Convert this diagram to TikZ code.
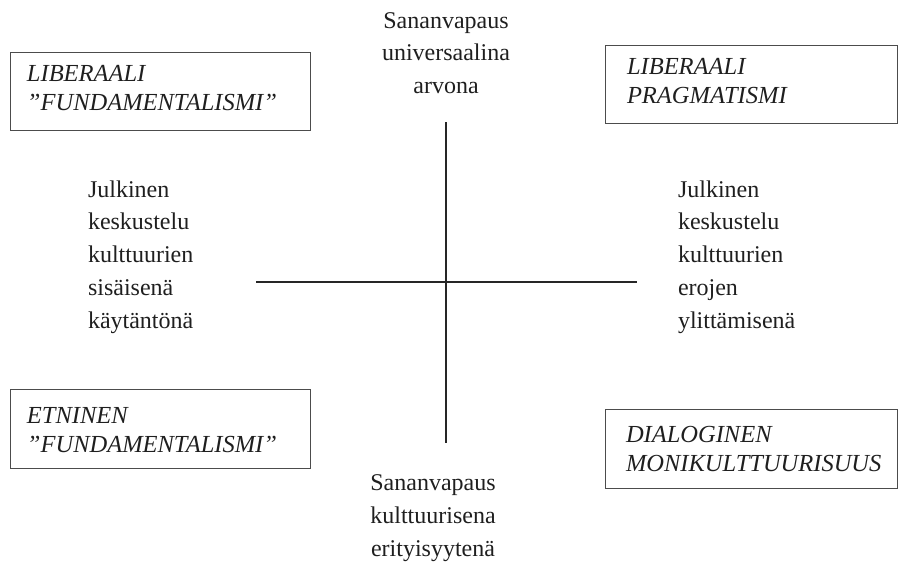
\documentclass[tikz,border=0pt]{standalone}
\usepackage{fontspec}
\setmainfont{Liberation Serif}
\begin{document}
\begin{tikzpicture}[x=1pt,y=-1pt,
  lbl/.style={inner sep=0pt, outer sep=0pt, text=black!88, font=\fontsize{24}{32.7}\selectfont, align=left, anchor=base west},
  clbl/.style={lbl, align=center, anchor=base},
  boxlbl/.style={inner sep=0pt, outer sep=0pt, text=black!88, font=\fontsize{24.5}{28.5}\selectfont\itshape, align=left, anchor=base west},
  frame/.style={draw=black!70, line width=0.9pt, inner sep=0pt, anchor=north west},
  axis/.style={draw=black!85, line width=1.3pt}]
\useasboundingbox (0,0) rectangle (898,565);
% boxes
\node[frame, minimum width=300pt, minimum height=78pt] (b1) at (10,52) {};
\node[frame, minimum width=292pt, minimum height=78pt] (b2) at (605,45) {};
\node[frame, minimum width=300pt, minimum height=79pt] (b3) at (10,389) {};
\node[frame, minimum width=292pt, minimum height=79pt] (b4) at (605,409) {};
% box texts (anchored at the baseline of the last line)
\node[boxlbl] (t1) at (27,110) {LIBERAALI\\”FUNDAMENTALISMI”};
\node[boxlbl] (t2) at (627,103) {LIBERAALI\\PRAGMATISMI};
\node[boxlbl] (t3) at (27,452) {ETNINEN\\”FUNDAMENTALISMI”};
\node[boxlbl] (t4) at (626,471) {DIALOGINEN\\MONIKULTTUURISUUS};
% side texts
\node[lbl] (ml) at (88,328) {Julkinen\\keskustelu\\kulttuurien\\sisäisenä\\käytäntönä};
\node[lbl] (mr) at (678,328) {Julkinen\\keskustelu\\kulttuurien\\erojen\\ylittämisenä};
% top and bottom texts
\node[clbl] (top) at (446,93.5) {Sananvapaus\\universaalina\\arvona};
\node[clbl] (bot) at (433,556) {Sananvapaus\\kulttuurisena\\erityisyytenä};
% axes
\coordinate (vt) at (446,122);
\coordinate (vb) at (446,443);
\coordinate (hl) at (256,282);
\coordinate (hr) at (637,282);
\draw[axis] (vt) -- (vb);
\draw[axis] (hl) -- (hr);
\end{tikzpicture}
\end{document}
